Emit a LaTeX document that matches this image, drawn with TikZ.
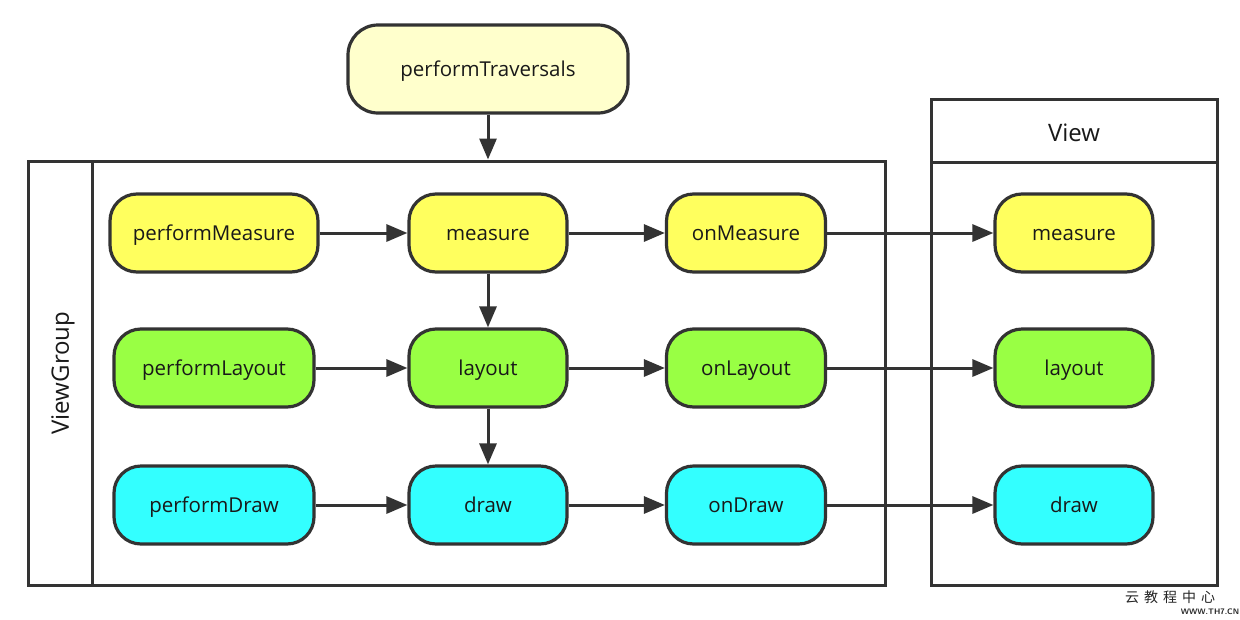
\documentclass[tikz,border=0pt]{standalone}
\usepackage{fontspec}
\setmainfont{Open Sans}
\newfontfamily\cjk{Noto Sans CJK SC}
\usetikzlibrary{arrows.meta,positioning}
\definecolor{lineC}{HTML}{333333}
\definecolor{topC}{HTML}{FFFFCC}
\definecolor{yelC}{HTML}{FFFF5E}
\definecolor{grnC}{HTML}{99FF44}
\definecolor{cyaC}{HTML}{33FFFF}
\tikzset{
  fn/.style={draw=lineC, line width=3.2pt, rounded corners=27pt, minimum height=78pt,
    inner sep=0pt, text height=15pt, text depth=0pt,
    font=\fontsize{20.5}{24}\selectfont, text=black!90},
  frame/.style={draw=lineC, line width=3pt, inner sep=0pt},
  arr/.style={draw=lineC, line width=3pt, -{Triangle[length=21pt,width=17pt]}},
  lbl/.style={font=\fontsize{24}{28}\selectfont, text=black!90}
}
\begin{document}
\begin{tikzpicture}[x=1pt,y=-1pt]
\useasboundingbox (0,0) rectangle (1240,619);
\fill[white] (0,0) rectangle (1240,619);
% containers
\node[frame, minimum width=857pt, minimum height=424pt] (vg) at (456.5,373) {};
\draw[lineC, line width=3pt] (92,161) coordinate (vgd1) -- (92,585) coordinate (vgd2);
\node[lbl, rotate=90] (vglbl) at (63,373) {ViewGroup};
\node[frame, minimum width=286pt, minimum height=486pt] (vw) at (1074,342) {};
\draw[lineC, line width=3pt] (931,162) coordinate (vwd1) -- (1217,162) coordinate (vwd2);
\node[lbl] (vwlbl) at (1074,133) {View};
% nodes
\node[fn, fill=topC, minimum width=280pt, minimum height=88pt, rounded corners=30pt] (pt) at (488,69) {performTraversals};
\node[fn, fill=yelC, minimum width=208pt] (pm) at (214,233) {performMeasure};
\node[fn, fill=yelC, minimum width=158pt] (m) at (488,233) {measure};
\node[fn, fill=yelC, minimum width=159pt] (om) at (746,233) {onMeasure};
\node[fn, fill=yelC, minimum width=158pt] (vm) at (1074,233) {measure};
\node[fn, fill=grnC, minimum width=200pt] (pl) at (214,368) {performLayout};
\node[fn, fill=grnC, minimum width=158pt] (l) at (488,368) {layout};
\node[fn, fill=grnC, minimum width=159pt] (ol) at (746,368) {onLayout};
\node[fn, fill=grnC, minimum width=158pt] (vl) at (1074,368) {layout};
\node[fn, fill=cyaC, minimum width=200pt] (pd) at (214,505) {performDraw};
\node[fn, fill=cyaC, minimum width=158pt] (d) at (488,505) {draw};
\node[fn, fill=cyaC, minimum width=159pt] (od) at (746,505) {onDraw};
\node[fn, fill=cyaC, minimum width=158pt] (vd) at (1074,505) {draw};
% connectors
\draw[arr] (pt.south) -- (pt.south |- vg.north);
\draw[arr] (pm.east) -- (m.west);
\draw[arr] (m.east) -- (om.west);
\draw[arr] (om.east) -- (vm.west);
\draw[arr] (pl.east) -- (l.west);
\draw[arr] (l.east) -- (ol.west);
\draw[arr] (ol.east) -- (vl.west);
\draw[arr] (pd.east) -- (d.west);
\draw[arr] (d.east) -- (od.west);
\draw[arr] (od.east) -- (vd.west);
\draw[arr] (m.south) -- (l.north);
\draw[arr] (l.south) -- (d.north);
% watermark
\node[font=\cjk\fontsize{14}{16}\selectfont, text=black!85] (wm1) at (1170,597) {云\hspace{5pt}教\hspace{5pt}程\hspace{5pt}中\hspace{5pt}心};
\node[font=\sffamily\bfseries\fontsize{8}{9}\selectfont, text=black!85] (wm2) at (1210,612) {WWW.TH7.CN};
\end{tikzpicture}
\end{document}
